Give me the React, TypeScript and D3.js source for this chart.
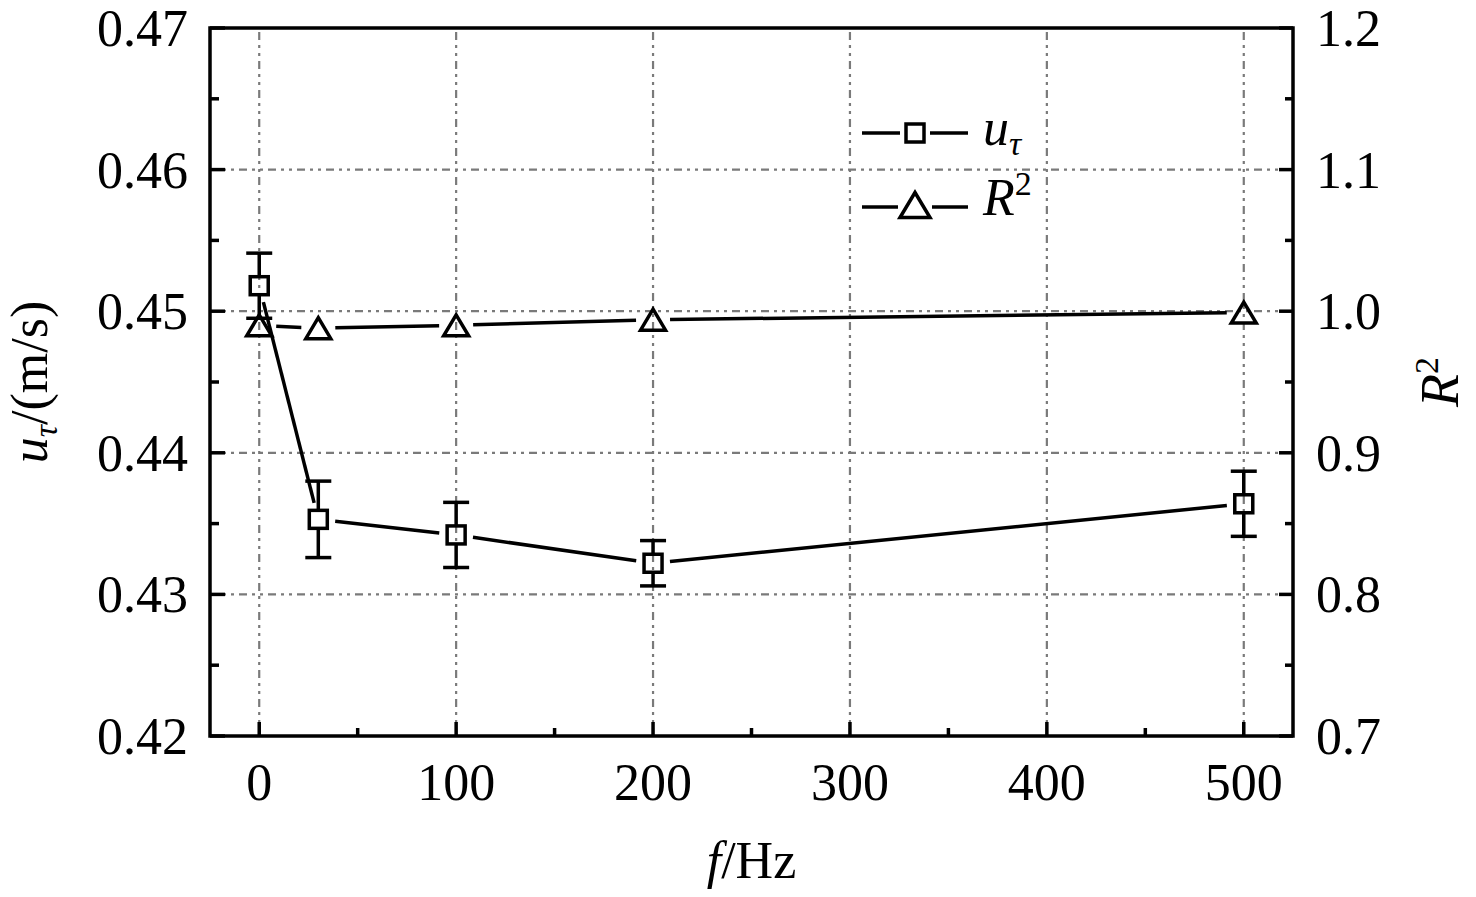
import React from "react";
import * as d3 from "d3";

const freqs = [0, 30, 100, 200, 500];
const uTau = [0.4518, 0.4353, 0.4342, 0.4322, 0.4364];
const uTauErr = [0.0023, 0.0027, 0.0023, 0.0016, 0.0023];
const r2 = [0.99, 0.988, 0.99, 0.994, 0.999];

const xTicks = [0, 100, 200, 300, 400, 500];
const xMinor = [50, 150, 250, 350, 450];
const leftTicks = [0.42, 0.43, 0.44, 0.45, 0.46, 0.47];
const leftMinor = [0.425, 0.435, 0.445, 0.455, 0.465];
const rightTicks = [0.7, 0.8, 0.9, 1.0, 1.1, 1.2];
const rightMinor = [0.75, 0.85, 0.95, 1.05, 1.15];

const W = 1476;
const H = 897;
const L = 210, R = 1293, T = 28, B = 736;
const FONT = "'Liberation Serif', 'Times New Roman', serif";

const x = d3.scaleLinear().domain([-25, 525]).range([L, R]);
const yL = d3.scaleLinear().domain([0.42, 0.47]).range([B, T]);
const yR = d3.scaleLinear().domain([0.7, 1.2]).range([B, T]);

type P = { x: number; y: number };

function gapSegments(pts: P[], gap: number) {
  const segs: { x1: number; y1: number; x2: number; y2: number }[] = [];
  for (let i = 0; i < pts.length - 1; i++) {
    const a = pts[i], b = pts[i + 1];
    const dx = b.x - a.x, dy = b.y - a.y;
    const len = Math.hypot(dx, dy);
    if (len <= 2 * gap) continue;
    const ux = dx / len, uy = dy / len;
    segs.push({ x1: a.x + ux * gap, y1: a.y + uy * gap, x2: b.x - ux * gap, y2: b.y - uy * gap });
  }
  return segs;
}

const SQ = 18;
const TW = 25, TH = 21;
const SW = 3.5;
const triPath = (cx: number, cy: number, w = TW, h = TH) =>
  `M${cx},${cy - h / 2}L${cx + w / 2},${cy + h / 2}L${cx - w / 2},${cy + h / 2}Z`;

export default function App() {
  const uPts: P[] = freqs.map((f, i) => ({ x: x(f), y: yL(uTau[i]) }));
  const rPts: P[] = freqs.map((f, i) => ({ x: x(f), y: yR(r2[i]) }));
  const gridStyle = { stroke: "#7a7a7a", strokeWidth: 2.2, strokeDasharray: "8 5 3 5 3 5" };

  return (
    <svg width={W} height={H} style={{ position: "absolute", left: 0, top: 0, background: "#fff" }}
      fontFamily={FONT}>
      <rect x={0} y={0} width={W} height={H} fill="#fff" />
      {/* grid */}
      {xTicks.map((t) => (
        <line key={"gx" + t} x1={x(t)} x2={x(t)} y1={B} y2={T} {...gridStyle} />
      ))}
      {leftTicks.slice(1, -1).map((t) => (
        <line key={"gy" + t} x1={L} x2={R} y1={yL(t)} y2={yL(t)} {...gridStyle} />
      ))}

      {/* ticks */}
      {xTicks.map((t) => (
        <line key={"tx" + t} x1={x(t)} x2={x(t)} y1={B} y2={B - 14} stroke="#000" strokeWidth={SW} />
      ))}
      {xMinor.map((t) => (
        <line key={"mx" + t} x1={x(t)} x2={x(t)} y1={B} y2={B - 8} stroke="#000" strokeWidth={SW} />
      ))}
      {leftTicks.map((t) => (
        <line key={"tl" + t} x1={L} x2={L + 15} y1={yL(t)} y2={yL(t)} stroke="#000" strokeWidth={SW} />
      ))}
      {leftMinor.map((t) => (
        <line key={"ml" + t} x1={L} x2={L + 9} y1={yL(t)} y2={yL(t)} stroke="#000" strokeWidth={SW} />
      ))}
      {rightTicks.map((t) => (
        <line key={"tr" + t} x1={R} x2={R - 14} y1={yR(t)} y2={yR(t)} stroke="#000" strokeWidth={SW} />
      ))}
      {rightMinor.map((t) => (
        <line key={"mr" + t} x1={R} x2={R - 8} y1={yR(t)} y2={yR(t)} stroke="#000" strokeWidth={SW} />
      ))}

      {/* frame */}
      <rect x={L} y={T} width={R - L} height={B - T} fill="none" stroke="#000" strokeWidth={SW} />

      {/* tick labels */}
      {xTicks.map((t) => (
        <text key={"lx" + t} x={x(t)} y={800} fontSize={52} textAnchor="middle">{t}</text>
      ))}
      {leftTicks.map((t) => (
        <text key={"ll" + t} x={188} y={yL(t) + 18} fontSize={52} textAnchor="end">{t.toFixed(2)}</text>
      ))}
      {rightTicks.map((t) => (
        <text key={"lr" + t} x={1316} y={yR(t) + 18} fontSize={52} textAnchor="start">{t.toFixed(1)}</text>
      ))}

      {/* axis titles */}
      <text x={(L + R) / 2} y={878} fontSize={52} textAnchor="middle">
        <tspan fontStyle="italic">f</tspan>
        <tspan>/Hz</tspan>
      </text>
      <text transform={`translate(47,${(T + B) / 2}) rotate(-90)`} fontSize={52} textAnchor="middle">
        <tspan fontStyle="italic">u</tspan>
        <tspan fontStyle="italic" fontSize={34} dy={10}>τ</tspan>
        <tspan dy={-10}>/(m/s)</tspan>
      </text>
      <text transform={`translate(1458,${(T + B) / 2}) rotate(-90)`} fontSize={54} textAnchor="middle">
        <tspan fontStyle="italic">R</tspan>
        <tspan fontSize={34} dy={-20}>2</tspan>
      </text>

      {/* u_tau series */}
      {gapSegments(uPts, 17).map((s, i) => (
        <line key={"us" + i} {...s} stroke="#000" strokeWidth={SW} />
      ))}
      {uPts.map((p, i) => {
        const top = yL(uTau[i] + uTauErr[i]);
        const bot = yL(uTau[i] - uTauErr[i]);
        return (
          <g key={"ue" + i} stroke="#000" strokeWidth={SW} fill="none">
            <line x1={p.x} x2={p.x} y1={top} y2={p.y - SQ / 2} />
            <line x1={p.x} x2={p.x} y1={p.y + SQ / 2} y2={bot} />
            <line x1={p.x - 13} x2={p.x + 13} y1={top} y2={top} />
            <line x1={p.x - 13} x2={p.x + 13} y1={bot} y2={bot} />
            <rect x={p.x - SQ / 2} y={p.y - SQ / 2} width={SQ} height={SQ} />
          </g>
        );
      })}

      {/* R2 series */}
      {gapSegments(rPts, 17).map((s, i) => (
        <line key={"rs" + i} {...s} stroke="#000" strokeWidth={SW} />
      ))}
      {rPts.map((p, i) => (
        <path key={"rt" + i} d={triPath(p.x, p.y)} fill="none" stroke="#000" strokeWidth={SW} />
      ))}

      {/* legend */}
      <g stroke="#000" strokeWidth={SW} fill="none">
        <line x1={862} x2={900} y1={133} y2={133} />
        <line x1={930} x2={968} y1={133} y2={133} />
        <rect x={915 - SQ / 2} y={133 - SQ / 2} width={SQ} height={SQ} />
        <line x1={862} x2={898} y1={207} y2={207} />
        <line x1={932} x2={968} y1={207} y2={207} />
        <path d={triPath(915, 205, 30, 25)} />
      </g>
      <text x={983} y={145} fontSize={52}>
        <tspan fontStyle="italic">u</tspan>
        <tspan fontStyle="italic" fontSize={34} dy={10}>τ</tspan>
      </text>
      <text x={983} y={215} fontSize={52}>
        <tspan fontStyle="italic">R</tspan>
        <tspan fontSize={34} dy={-20}>2</tspan>
      </text>
    </svg>
  );
}
